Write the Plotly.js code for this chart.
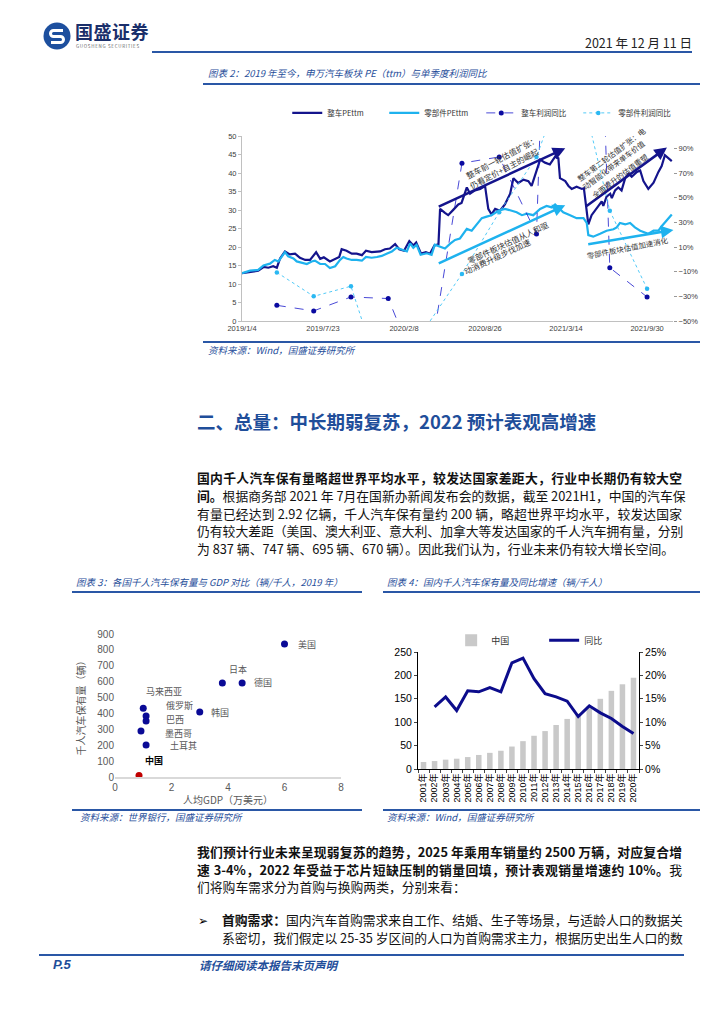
<!DOCTYPE html>
<html><head><meta charset="utf-8">
<script src="https://cdn.plot.ly/plotly-3.0.1.min.js"></script>
<style>
html,body{margin:0;padding:0;background:#fff;}
#page{position:relative;width:724px;height:1024px;overflow:hidden;font-family:"Noto Sans CJK SC","Liberation Sans",sans-serif;color:#000;}
.abs{position:absolute;white-space:nowrap;}
.ctitle{position:absolute;white-space:nowrap;font-size:9.5px;line-height:12px;color:#1f4e9a;font-style:italic;}
.hline{position:absolute;background:#2a57a6;}
.line{position:absolute;left:197px;width:485px;font-size:12.8px;line-height:17.5px;height:17.5px;white-space:nowrap;text-align:justify;text-align-last:justify;color:#111;}
.b{font-weight:700;}
.plot{position:absolute;}
</style></head>
<body><div id="page">
<svg class="abs" style="left:43px;top:22px" width="28" height="28" viewBox="0 0 28 28">
 <circle cx="14" cy="14" r="13.5" fill="#1d4f9e"/>
 <path d="M20 8.5 H10.5 a3 3 0 0 0 0 6 H17.5 a3 3 0 0 1 0 6 H8" fill="none" stroke="#fff" stroke-width="3"/>
</svg>
<div class="abs" style="left:75px;top:21px;font-size:18px;font-weight:700;color:#1a2f6b;letter-spacing:0.5px;line-height:20px">国盛证券</div>
<div class="abs" style="left:76px;top:44px;font-size:4.5px;color:#666;letter-spacing:0.7px;line-height:5px">GUOSHENG SECURITIES</div>
<div class="abs" style="right:32px;top:36px;font-size:12.5px;line-height:14px;color:#222">2021 年 12 月 11 日</div>
<div class="hline" style="left:152px;top:51px;width:540px;height:2px"></div>

<div class="ctitle" style="left:208px;top:67px">图表 2：2019 年至今，申万汽车板块 PE（ttm）与单季度利润同比</div>
<div class="hline" style="left:203px;top:83px;width:497px;height:1.5px"></div>
<div id="c1" class="plot" style="left:200px;top:86px;width:510px;height:250px"></div>
<div class="hline" style="left:203px;top:341px;width:497px;height:1.5px"></div>
<div class="ctitle" style="left:208px;top:344px">资料来源：Wind，国盛证券研究所</div>

<div class="abs" style="left:197px;top:409px;font-size:18.5px;line-height:24px;font-weight:700;color:#1f4e9a">二、总量：中长期弱复苏，2022 预计表观高增速</div>

<div class="line b" style="top:469px">国内千人汽车保有量略超世界平均水平，较发达国家差距大，行业中长期仍有较大空</div>
<div class="line" style="top:487px"><span class="b">间。</span>根据商务部 2021 年 7月在国新办新闻发布会的数据，截至 2021H1，中国的汽车保</div>
<div class="line" style="top:504.5px">有量已经达到 2.92 亿辆，千人汽车保有量约 200 辆，略超世界平均水平，较发达国家</div>
<div class="line" style="top:522px">仍有较大差距（美国、澳大利亚、意大利、加拿大等发达国家的千人汽车拥有量，分别</div>
<div class="line" style="top:539.5px;text-align:left;text-align-last:left">为 837 辆、747 辆、695 辆、670 辆）。因此我们认为，行业未来仍有较大增长空间。</div>

<div class="ctitle" style="left:76px;top:576px">图表 3：各国千人汽车保有量与 GDP 对比（辆/千人，2019 年）</div>
<div class="hline" style="left:72px;top:591px;width:290px;height:1.5px"></div>
<div id="c3" class="plot" style="left:40px;top:600px;width:330px;height:208px"></div>
<div class="hline" style="left:72px;top:809px;width:290px;height:1.5px"></div>
<div class="ctitle" style="left:80px;top:811px">资料来源：世界银行，国盛证券研究所</div>

<div class="ctitle" style="left:387px;top:576px">图表 4：国内千人汽车保有量及同比增速（辆/千人）</div>
<div class="hline" style="left:383px;top:591px;width:317px;height:1.5px"></div>
<div id="c4" class="plot" style="left:380px;top:600px;width:320px;height:205px"></div>
<div class="hline" style="left:383px;top:809px;width:317px;height:1.5px"></div>
<div class="ctitle" style="left:387px;top:811px">资料来源：Wind，国盛证券研究所</div>

<div class="line b" style="top:843px">我们预计行业未来呈现弱复苏的趋势，2025 年乘用车销量约 2500 万辆，对应复合增</div>
<div class="line" style="top:860.5px"><span class="b">速 3-4%，2022 年受益于芯片短缺压制的销量回填，预计表观销量增速约 10%。</span>我</div>
<div class="line" style="top:878px;text-align:left;text-align-last:left">们将购车需求分为首购与换购两类，分别来看：</div>
<div class="abs" style="left:198px;top:911px;font-size:12px;line-height:17.5px">➢</div>
<div class="line" style="left:222px;width:460px;top:911px"><span class="b">首购需求：</span>国内汽车首购需求来自工作、结婚、生子等场景，与适龄人口的数据关</div>
<div class="line" style="left:222px;width:460px;top:928.5px">系密切，我们假定以 25-35 岁区间的人口为首购需求主力，根据历史出生人口的数</div>

<div class="hline" style="left:39px;top:954px;width:645px;height:2px"></div>
<div class="abs" style="left:53px;top:957px;font-size:13px;line-height:16px;font-weight:700;font-style:italic;color:#1f4e9a;font-family:'Liberation Sans',sans-serif">P.5</div>
<div class="abs" style="left:199px;top:958px;font-size:11.5px;line-height:15px;font-weight:700;font-style:italic;color:#1f4e9a">请仔细阅读本报告末页声明</div>
</div>
<script>
// ---------- Figure 2 data ----------
const vehiclePeDates = ['2019-01-04','2019-01-24','2019-02-13','2019-02-26','2019-03-10','2019-03-22','2019-03-31','2019-04-08','2019-04-20','2019-05-02','2019-05-15','2019-05-27','2019-06-09','2019-06-21','2019-06-29','2019-07-06','2019-07-16','2019-07-25','2019-08-09','2019-08-22','2019-09-01','2019-09-07','2019-09-19','2019-10-02','2019-10-14','2019-10-27','2019-11-06','2019-11-20','2019-12-11','2019-12-23','2020-01-04','2020-01-17','2020-01-27','2020-02-08','2020-02-21','2020-03-02','2020-03-09','2020-03-21','2020-04-02','2020-04-12','2020-04-23','2020-05-03','2020-05-07','2020-05-19','2020-05-27','2020-06-09','2020-06-21','2020-06-29','2020-07-12','2020-07-20','2020-08-01','2020-08-14','2020-08-26','2020-09-03','2020-09-11','2020-09-20','2020-10-02','2020-10-14','2020-10-27','2020-11-04','2020-11-16','2020-11-29','2020-12-11','2020-12-19','2020-12-27','2021-01-09','2021-01-21','2021-02-02','2021-02-15','2021-02-23','2021-02-27','2021-03-12','2021-03-20','2021-03-28','2021-04-09','2021-04-22','2021-04-27','2021-05-04','2021-05-08','2021-05-16','2021-05-25','2021-06-02','2021-06-10','2021-06-14','2021-06-22','2021-07-01','2021-07-05','2021-07-13','2021-07-21','2021-07-29','2021-08-07','2021-08-15','2021-08-23','2021-09-05','2021-09-13','2021-09-21','2021-10-03','2021-10-16','2021-10-28','2021-11-05','2021-11-13','2021-11-22','2021-11-30'];
const vehiclePe = [12.9,13.2,13.6,14.6,14.4,14.8,14.4,16.9,18.8,18.0,18.2,17.1,16.5,16.5,17.8,18.6,16.8,17.2,16.1,16.8,17.3,19.4,19.0,18.2,18.2,17.8,19.0,18.6,18.8,19.4,19.6,20.8,19.4,19.0,21.6,20.4,21.2,18.2,18.6,18.2,20.4,20.7,30.3,29.2,28.6,30.1,31.5,31.9,36.1,34.4,35.3,35.7,36.5,30.3,28.8,30.3,29.8,31.5,34.4,38.6,37.3,38.2,37.8,36.5,39.4,43.6,42.8,42.3,44.4,44.0,38.6,37.8,36.5,35.7,36.3,35.7,35.9,30.3,26.1,28.6,29.8,31.1,32.3,31.1,33.6,34.4,33.2,35.3,36.1,35.3,38.6,39.8,39.0,40.3,40.7,37.8,35.7,37.4,40.3,41.9,44.8,44.0,43.2];
const partsPeDates = ['2019-01-04','2019-01-24','2019-02-13','2019-02-26','2019-03-14','2019-03-26','2019-04-04','2019-04-12','2019-04-20','2019-04-28','2019-05-11','2019-05-19','2019-05-31','2019-06-13','2019-06-25','2019-07-03','2019-07-16','2019-07-28','2019-08-09','2019-08-22','2019-09-03','2019-09-11','2019-09-19','2019-10-02','2019-10-14','2019-10-27','2019-11-06','2019-11-20','2019-12-03','2019-12-15','2019-12-27','2020-01-09','2020-01-21','2020-02-02','2020-02-15','2020-02-23','2020-03-02','2020-03-10','2020-03-20','2020-04-04','2020-04-16','2020-04-24','2020-05-07','2020-05-19','2020-06-01','2020-06-13','2020-06-25','2020-07-12','2020-07-24','2020-08-05','2020-08-18','2020-08-30','2020-09-11','2020-09-28','2020-10-14','2020-10-31','2020-11-12','2020-11-25','2020-12-07','2020-12-23','2021-01-09','2021-01-25','2021-02-07','2021-02-15','2021-02-23','2021-03-07','2021-03-24','2021-04-09','2021-04-26','2021-05-04','2021-05-08','2021-05-20','2021-06-06','2021-06-22','2021-07-09','2021-07-17','2021-07-25','2021-08-07','2021-08-19','2021-08-31','2021-09-13','2021-09-25','2021-10-03','2021-10-16','2021-10-28','2021-11-05','2021-11-18','2021-11-30'];
const partsPe = [12.9,13.6,13.8,15.0,15.5,16.5,16.1,17.4,18.6,17.5,16.9,16.1,15.7,15.4,16.1,16.3,15.4,15.4,14.3,14.8,16.5,17.3,16.9,16.5,16.5,16.3,17.3,17.1,17.3,17.6,18.2,18.8,19.8,19.3,18.8,21.0,19.8,20.6,17.9,18.3,17.9,20.6,20.1,19.6,20.9,21.9,22.3,24.9,24.4,26.1,27.8,28.2,28.6,29.8,30.3,29.8,29.4,28.6,29.0,28.6,30.3,31.1,30.7,31.5,30.7,29.4,28.6,27.8,27.8,26.5,23.2,22.8,23.6,24.4,24.8,25.3,26.5,26.1,26.5,25.3,24.4,24.0,23.6,24.4,24.4,25.6,27.3,28.8];
const quarterDates = ['2019-03-31','2019-06-30','2019-09-30','2019-12-31','2020-03-31','2020-06-30','2020-09-30','2020-12-31','2021-03-31','2021-06-30','2021-09-30'];
const vehicleProfitYoY = [-37.3,-41.8,-30.5,-31.8,-105,78,83,20.6,900,-6.8,-30.5];
const partsProfitYoY = [-10.6,-30,-21.8,-115,-56,-11.8,38.1,83,165,39.4,-23.8];
const peTickDates = ['2019-01-04','2019-07-23','2020-02-08','2020-08-26','2021-03-14','2021-09-30'];
const peTickLabels = ['2019/1/4','2019/7/23','2020/2/8','2020/8/26','2021/3/14','2021/9/30'];

// ---------- Figure 3 data ----------
const countries = ['美国','日本','德国','韩国','马来西亚','俄罗斯','巴西','墨西哥','土耳其','中国'];
const gdpPerCapita = [6.0,3.8,4.5,3.0,1.0,1.1,1.1,0.92,1.1,0.85];
const carsPerThousand = [837,592,592,409,433,384,352,289,201,10];

// ---------- Figure 4 data ----------
const yearLabels = ['2001年','2002年','2003年','2004年','2005年','2006年','2007年','2008年','2009年','2010年','2011年','2012年','2013年','2014年','2015年','2016年','2017年','2018年','2019年','2020年'];
const chinaCarsPerThousand = [15,17,20,22,25.5,30,34.5,39,48,59.5,71,81,94,107,118,134,150,167,181,195];
const chinaYoY = [null,13.3,15.4,12.5,16.7,16.5,17.4,16.5,22.7,23.7,19.3,16.1,15.4,14.5,11.2,13.5,12.0,10.8,9.1,7.6];

const FONT = '"Liberation Sans","Noto Sans CJK SC",sans-serif';
const CJK = '"Noto Sans CJK SC",sans-serif';
const DARK = '#14148c', LIGHT = '#1eb2ee';

// ---------- Figure 2 ----------
const t1 = [
 {x:quarterDates, y:vehicleProfitYoY, name:'整车利润同比', yaxis:'y2', mode:'lines+markers', legendrank:3,
  line:{color:'#1a1acc', width:0.8, dash:'dash'}, marker:{size:5, color:'#0a0aa0'}},
 {x:quarterDates, y:partsProfitYoY, name:'零部件利润同比', yaxis:'y2', mode:'lines+markers', legendrank:4,
  line:{color:'#40c4f6', width:0.9, dash:'dot'}, marker:{size:4.5, color:'#2bb8f2'}},
 {x:vehiclePeDates, y:vehiclePe, name:'整车PEttm', mode:'lines', legendrank:1, line:{color:DARK, width:2.2}},
 {x:partsPeDates, y:partsPe, name:'零部件PEttm', mode:'lines', legendrank:2, line:{color:LIGHT, width:2.2}}
];
function arrow(x,y,ax,ay,color){return {x:x,y:y,ax:ax,ay:ay,xref:'x',yref:'y',axref:'x',ayref:'y',showarrow:true,arrowhead:2,arrowsize:1,arrowwidth:2.5,arrowcolor:color,text:''};}
function note(x,y,text,angle,size){return {x:x,y:y,xref:'x',yref:'y',text:text,showarrow:false,textangle:angle,font:{size:size||7.5,color:'#333',family:CJK}};}
const l1 = {
 width:510, height:250, margin:{l:42,r:37,t:35,b:15}, paper_bgcolor:'#fff', plot_bgcolor:'#fff',
 font:{family:FONT, size:7.5, color:'#404040'}, showlegend:true,
 legend:{orientation:'h', x:0.105, y:1.125, xanchor:'left', yanchor:'middle', entrywidth:52, entrywidthmode:'pixels', font:{size:7.5, family:CJK, color:'#333'}, itemwidth:30, traceorder:'normal'},
 xaxis:{type:'date', range:['2019-01-04','2021-12-03'], tickvals:peTickDates, ticktext:peTickLabels, showgrid:false, zeroline:false, showline:true, linecolor:'#c0c0c0', linewidth:1, ticks:'', tickfont:{size:7.5}, automargin:false},
 yaxis:{range:[0,50], dtick:5, showgrid:false, zeroline:false, showline:true, linecolor:'#c0c0c0', ticks:'outside', ticklen:3, tickcolor:'#c0c0c0', tickfont:{size:7.5}, automargin:false},
 yaxis2:{overlaying:'y', side:'right', range:[-50,100], tick0:-50, dtick:20, ticksuffix:'%', showgrid:false, zeroline:false, showline:false, ticks:'outside', ticklen:3, tickcolor:'#999', tickfont:{size:7.5}, automargin:false},
 annotations:[
  arrow('2021-03-12',46.7,'2020-04-30',30.7,DARK),
  arrow('2021-03-12',31.3,'2020-04-30',15.4,LIGHT),
  arrow('2021-11-18',46.9,'2021-04-30',30.8,DARK),
  arrow('2021-12-04',24.6,'2021-05-04',20.7,LIGHT),
  note('2020-10-06',44.2,'整车前一轮估值扩张：',-28,8),
  note('2020-10-12',41.1,'仍看定价+自主的崛起',-28,8),
  note('2020-10-21',21.1,'零部件板块估值从人和驱',-25,8),
  note('2020-09-24',17.5,'动消费升级步伐加速',-25,8),
  note('2021-07-03',45.0,'整车第二轮估值扩张：电',-37),
  note('2021-07-10',42.2,'动智能化带来单车价值',-37),
  note('2021-07-25',39.3,'全面提升的估值重塑',-37),
  note('2021-08-13',19.8,'零部件板块估值加速消化',-11)
 ]
};
Plotly.newPlot('c1', t1, l1, {displayModeBar:false, staticPlot:true});

// ---------- Figure 3 ----------
const blue = '#0a0a96';
const labelShift = {'美国':[11,0],'日本':[5,13],'德国':[10,0],'韩国':[9,0],'马来西亚':[1,17],'俄罗斯':[18,10],'巴西':[18,2],'墨西哥':[22,-2],'土耳其':[22,0],'中国':[4,15]};
const pointLabels = countries.map((c,i)=>({x:gdpPerCapita[i], y:carsPerThousand[i], xref:'x', yref:'y', text:c, showarrow:false,
   xanchor:'left', yanchor:'middle', xshift:labelShift[c][0], yshift:labelShift[c][1],
   font:{size:9, family:CJK, color:c==='中国'?'#000':'#595959', weight:c==='中国'?700:400}}));
pointLabels.push({x:0.5, y:-0.16, xref:'paper', yref:'paper', text:'人均GDP（万美元）', showarrow:false, xanchor:'center', yanchor:'middle',
   font:{size:10, family:CJK, color:'#595959'}});
const t3 = [{
 x:gdpPerCapita, y:carsPerThousand, mode:'markers', type:'scatter',
 marker:{size:7, color:countries.map(c=>c==='中国'?'#c00000':blue)},
 cliponaxis:false, hoverinfo:'none'
}];
const l3 = {
 width:330, height:208, margin:{l:75,r:29,t:34,b:31}, paper_bgcolor:'#fff', plot_bgcolor:'#fff',
 font:{family:FONT, size:10, color:'#595959'}, showlegend:false,
 xaxis:{range:[0,8], dtick:2, showgrid:false, zeroline:false, showline:true, linecolor:'#d9d9d9', linewidth:2, ticks:'', tickfont:{size:10}, automargin:false},
 yaxis:{range:[0,900], dtick:100, showgrid:false, zeroline:false, showline:false, ticks:'', tickfont:{size:10},
   title:{text:'千人汽车保有量（辆）', font:{size:10, family:CJK, color:'#595959'}}, automargin:false},
 annotations: pointLabels
};
Plotly.newPlot('c3', t3, l3, {displayModeBar:false, staticPlot:true});

// ---------- Figure 4 ----------
const t4 = [
 {x:yearLabels, y:chinaCarsPerThousand, type:'bar', name:'中国', marker:{color:'#c9c9c9'}, hoverinfo:'none'},
 {x:yearLabels, y:chinaYoY, type:'scatter', mode:'lines', name:'同比', yaxis:'y2', line:{color:'#0c0c8c', width:3}, hoverinfo:'none'}
];
const l4 = {
 width:320, height:205, margin:{l:38,r:61,t:52,b:36}, paper_bgcolor:'#fff', plot_bgcolor:'#fff',
 font:{family:FONT, size:10.5, color:'#000'}, bargap:0.5, showlegend:true,
 legend:{orientation:'h', x:0.15, y:1.1, xanchor:'left', yanchor:'middle', entrywidth:48, entrywidthmode:'pixels', font:{size:9, family:CJK, color:'#333'}},
 xaxis:{type:'category', tickangle:-90, tickfont:{size:9, family:FONT}, showline:true, linecolor:'#000', linewidth:1, ticks:'outside', ticklen:3, tickson:'boundaries', showgrid:false, automargin:false},
 yaxis:{range:[0,250], dtick:50, showline:true, linecolor:'#000', ticks:'outside', ticklen:3, showgrid:false, zeroline:false, automargin:false},
 yaxis2:{overlaying:'y', side:'right', range:[0,25], dtick:5, ticksuffix:'%', showline:true, linecolor:'#000', ticks:'outside', ticklen:3, showgrid:false, zeroline:false, automargin:false}
};
Plotly.newPlot('c4', t4, l4, {displayModeBar:false, staticPlot:true});
</script>
</body></html>
